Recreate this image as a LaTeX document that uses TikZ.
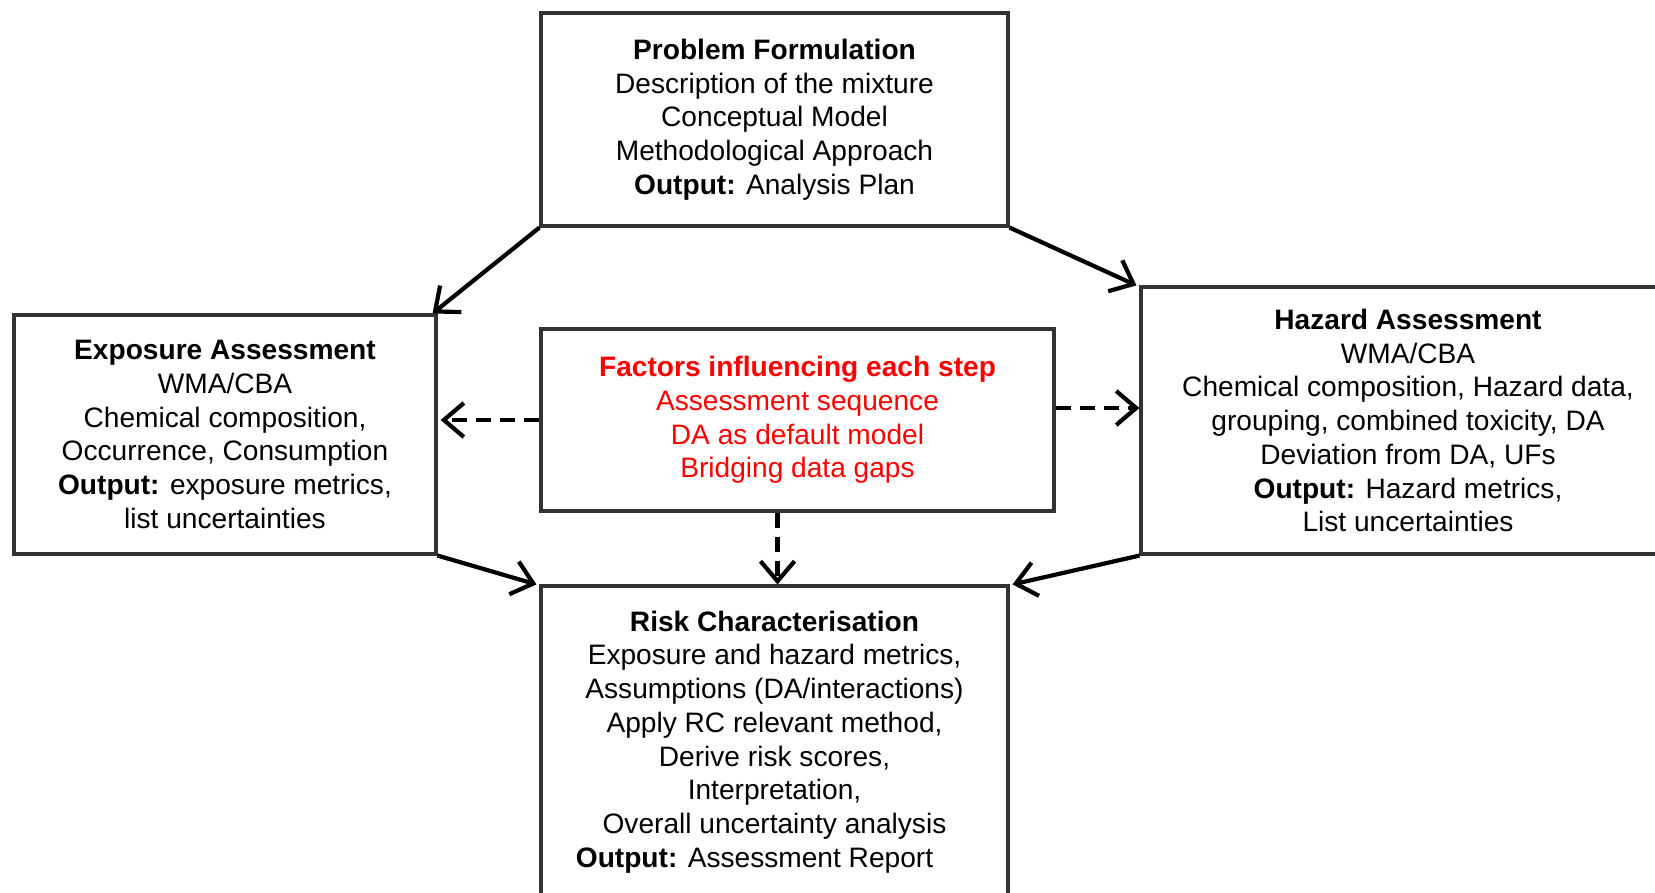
\documentclass[tikz,border=0pt]{standalone}
\usepackage{fontspec}
\setmainfont{Liberation Sans}
\usetikzlibrary{arrows.meta,positioning,calc}
\definecolor{factorred}{RGB}{255,0,0}

\begin{document}
\begin{tikzpicture}[
    x=1cm, y=1cm,
    stage/.style={rectangle, draw=black!80, line width=0.9pt, fill=white,
                  align=center, inner sep=0pt,
                  font=\fontsize{8}{9.6}\selectfont},
    factorbox/.style={stage, text=factorred},
    flow/.style={-{Straight Barb[length=2mm, width=3.4mm]}, line width=1.2pt},
    influence/.style={flow, dash pattern=on 1.5mm off 0.9mm}
]
\clip (0,0) rectangle (16.55,-8.92);

\node[stage, minimum width=4.67cm, minimum height=2.13cm] (pf) at (7.745,-1.195)
    {\textbf{Problem Formulation}\\
     Description of the mixture\\
     Conceptual Model\\
     Methodological Approach\\
     \textbf{Output:} Analysis Plan};
\node[stage, minimum width=4.22cm, minimum height=2.39cm] (ea) at (2.25,-4.345)
    {\textbf{Exposure Assessment}\\
     WMA/CBA\\
     Chemical composition,\\
     Occurrence, Consumption\\
     \textbf{Output:} exposure metrics,\\
     list uncertainties};
\node[stage, minimum width=5.34cm, minimum height=2.67cm] (ha) at (14.08,-4.205)
    {\textbf{Hazard Assessment}\\
     WMA/CBA\\
     Chemical composition, Hazard data,\\
     grouping, combined toxicity, DA\\
     Deviation from DA, UFs\\
     \textbf{Output:} Hazard metrics,\\
     List uncertainties};
\node[factorbox, minimum width=5.13cm, minimum height=1.82cm] (fac) at (7.975,-4.2)
    {\textbf{Factors influencing each step}\\
     Assessment sequence\\
     DA as default model\\
     Bridging data gaps};
\node[stage, minimum width=4.67cm, minimum height=3.12cm] (rc) at (7.745,-7.42)
    {\textbf{Risk Characterisation}\\
     Exposure and hazard metrics,\\
     Assumptions (DA/interactions)\\
     Apply RC relevant method,\\
     Derive risk scores,\\
     Interpretation,\\
     Overall uncertainty analysis\\
     \textbf{Output:} Assessment Report\hspace*{4mm}};

% main sequence
\draw[flow] (pf.south west) -- ([xshift=-0.5mm]ea.north east);
\draw[flow] (pf.south east) -- ([xshift=-0.3mm]ha.north west);
\draw[flow] (ea.south east) -- ([xshift=-0.3mm]rc.north west);
\draw[flow] (ha.south west) -- ([xshift=0.3mm]rc.north east);

% influences
\draw[influence] (fac.west) -- ([xshift=0.3mm]ea.east |- fac.west);
\draw[influence] ([yshift=1.2mm]fac.east) -- ([yshift=1.2mm]fac.east -| ha.west);
\draw[influence] ([xshift=-2mm]fac.south) -- ([xshift=-2mm]fac.south |- rc.north);
\end{tikzpicture}
\end{document}
